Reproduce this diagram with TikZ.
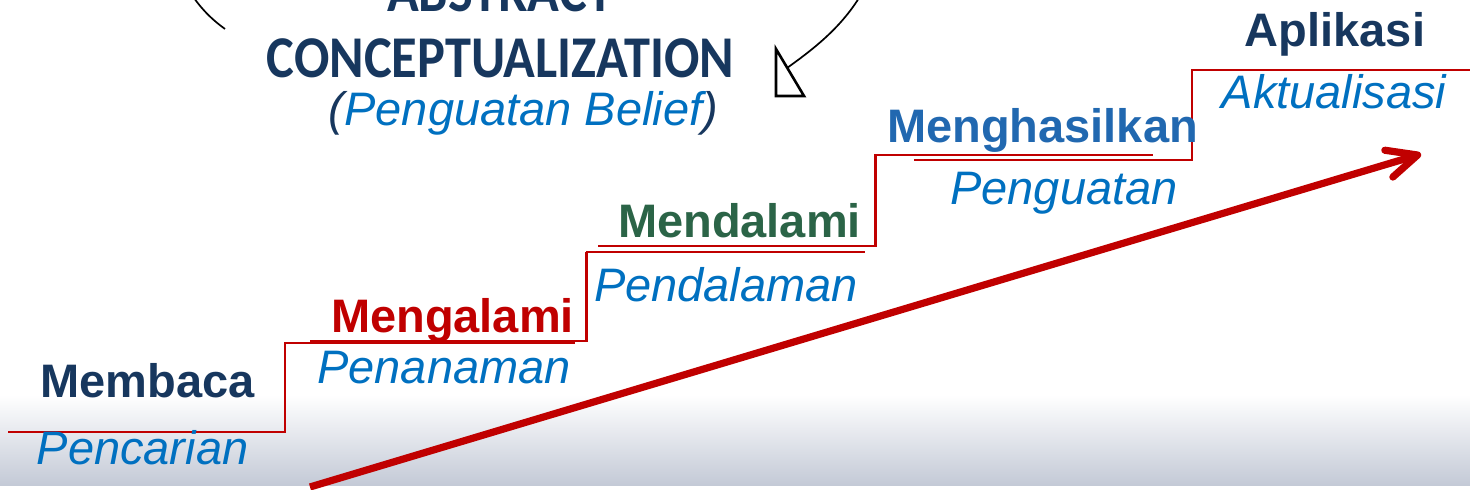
\documentclass[tikz,border=0pt]{standalone}
\usepackage{fontspec}
\setmainfont{Liberation Sans}
\newfontfamily\calib{Carlito}
\usetikzlibrary{arrows.meta}
\definecolor{navy}{HTML}{17375E}
\definecolor{stepred}{HTML}{C00000}
\definecolor{itblue}{HTML}{0070C0}
\definecolor{dgreen}{HTML}{2B6447}
\definecolor{mblue}{HTML}{2168B0}
\definecolor{floorc}{HTML}{C3C9D6}
\definecolor{floorm}{HTML}{EEF0F4}
\begin{document}
\begin{tikzpicture}[x=0.5pt,y=-0.5pt,
  head/.style={font=\fontsize{23.5pt}{28pt}\selectfont\bfseries, anchor=base, inner sep=0pt},
  sub/.style={font=\fontsize{23.5pt}{28pt}\selectfont\itshape, text=itblue, anchor=base, inner sep=0pt},
  concept/.style={font=\calib\fontsize{26.2pt}{30pt}\selectfont\bfseries, text=navy, anchor=base, inner sep=0pt},
  stair/.style={draw=stepred, line width=1pt},
  cycleline/.style={draw=black, line width=0.85pt},
  bigarrow/.style={draw=stepred, line width=3.6pt, -{Straight Barb[length=15pt,width=14pt,round]}}]
\useasboundingbox (0,0) rectangle (1470,490);
\shade[top color=white, middle color=floorm, bottom color=floorc] (0,395) rectangle (1470,486);

% stair lines
\draw[stair] (8,432) -- (285,432) -- (285,342);
\draw[stair] (285,432) -- (285,343) -- (575,343);
\draw[stair] (310,341) -- (586,341) -- (586,252);
\draw[stair] (587,342) -- (587,252) -- (865,252);
\draw[stair] (598,246) -- (876,246) -- (876,155);
\draw[stair] (875,246) -- (875,155) -- (1153,155);
\draw[stair] (914,160) -- (1192,160) -- (1192,70);
\draw[stair] (1192,160) -- (1192,70) -- (1470,70);

% cycle arcs
\coordinate (lA) at (194,-2);
\coordinate (lB) at (225,29);
\draw[cycleline] (lA) .. controls (204,12) and (214,21) .. (lB);
\coordinate (rA) at (859,-2);
\coordinate (rB) at (787,68);
\draw[cycleline] (rA) .. controls (840,28) and (815,48) .. (rB);
\coordinate (t1) at (776,49);
\coordinate (t2) at (776,96);
\coordinate (t3) at (804,96);
\draw[line width=1.3pt, fill=white] (t1) -- (t2) -- (t3) -- cycle;

% concept text
\node[concept] (abs) at (500,12) {\scalebox{1}[1.13]{ABSTRACT}};
\node[concept] (con) at (500.5,78) {\scalebox{1}[1.13]{CONCEPTUALIZATION}};
\node[sub, text=navy] (bel) at (523.5,126) {(\textcolor{itblue}{Penguatan Belief})};

% steps
\node[head, text=navy] (s1) at (147.5,398) {Membaca};
\node[sub] (p1) at (142.5,465) {Pencarian};
\node[head, text=stepred] (s2) at (452.5,333) {Mengalami};
\node[sub] (p2) at (444,384) {Penanaman};
\node[head, text=dgreen] (s3) at (739.5,238) {Mendalami};
\node[sub] (p3) at (726,302) {Pendalaman};
\node[head, text=mblue] (s4) at (1042.5,143) {Menghasilkan};
\node[sub] (p4) at (1064,205) {Penguatan};
\node[head, text=navy] (s5) at (1335,47) {Aplikasi};
\node[sub] (p5) at (1334,109) {Aktualisasi};

% big arrow
\coordinate (a0) at (310,487);
\coordinate (a1) at (1421,154);
\draw[bigarrow] (a0) -- (a1);
\end{tikzpicture}
\end{document}
